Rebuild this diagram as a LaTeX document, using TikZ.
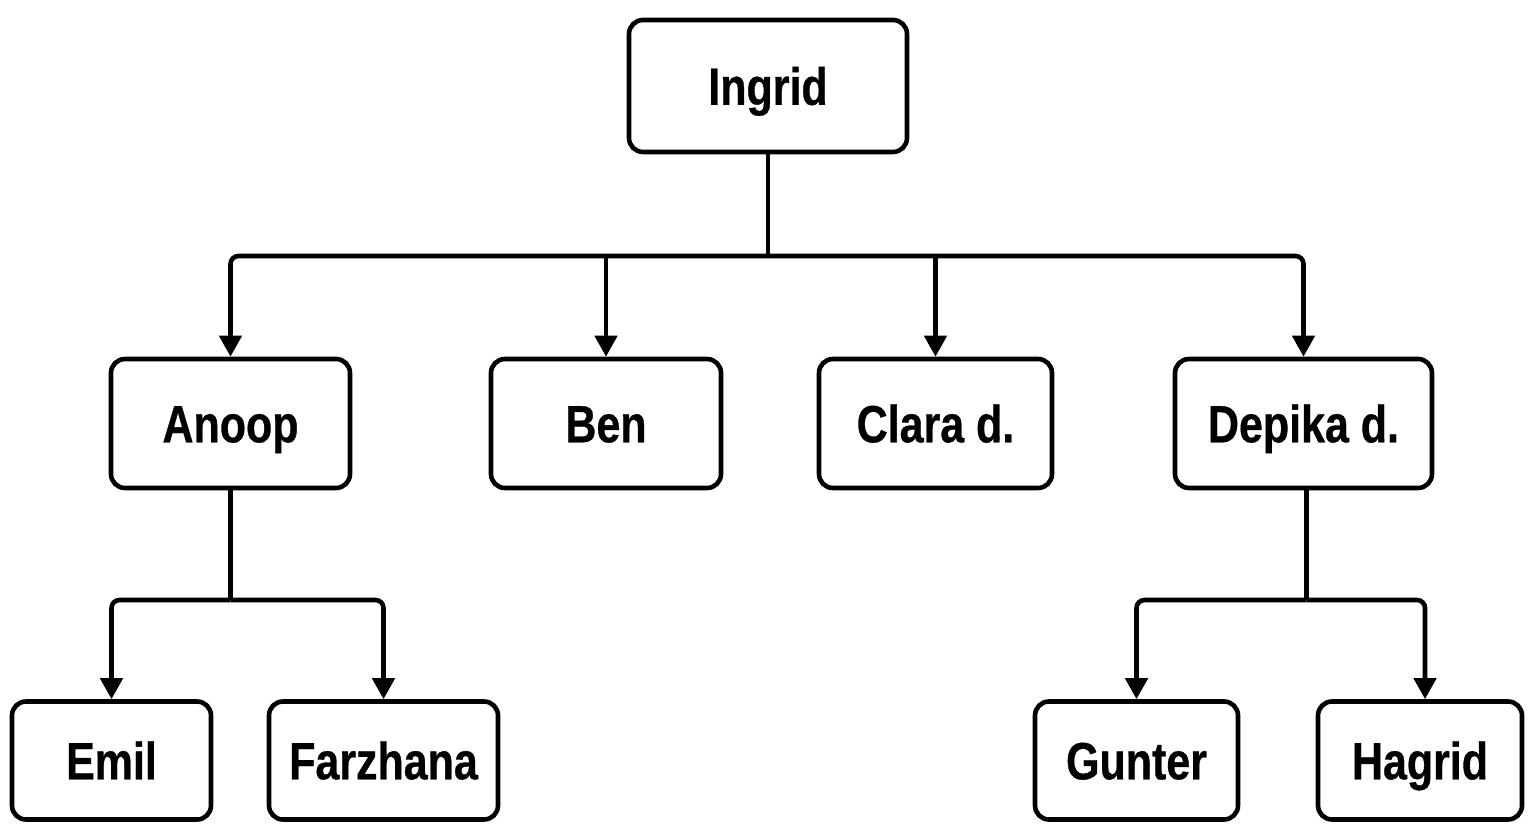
\documentclass[tikz,border=0pt]{standalone}
\usepackage{fontspec}
\setmainfont{Liberation Sans}[FakeStretch=0.82,FakeBold=0.6]
\usepackage{tikz}
\usetikzlibrary{
    calc,
    arrows.meta
}
\tikzset{
    person/.style={draw, line width=2.3pt, rounded corners=7pt, inner sep=0pt,
        font=\fontsize{26.2pt}{30pt}\selectfont\bfseries,
        text height=18.8pt, text depth=0pt, align=center},
    link/.style={line width=2.3pt, rounded corners=4pt},
    arr/.style={link, -{Triangle[width=11pt,length=10.5pt]}}
}

\begin{document}
\begin{tikzpicture}[x=0.5pt,y=-0.5pt]
        \useasboundingbox (0,0) rectangle (1536,839);

        \node[person, minimum width=139pt, minimum height=66pt] (ingrid) at (768,86) {Ingrid};

        \node[person, minimum width=119.5pt, minimum height=64.5pt] (anoop) at (230.5,423.5) {Anoop};
        \node[person, minimum width=115pt, minimum height=64.5pt] (ben) at (606,423.5) {Ben};
        \node[person, minimum width=116.5pt, minimum height=64.5pt] (clara) at (935.5,423.5) {Clara d.};
        \node[person, minimum width=128.5pt, minimum height=64.5pt] (depika) at (1303.5,423.5) {Depika d.};

        \node[person, minimum width=99.5pt, minimum height=59pt] (emil) at (111.5,760.5) {Emil};
        \node[person, minimum width=114.5pt, minimum height=59pt] (farzhana) at (383.5,760.5) {Farzhana};
        \node[person, minimum width=101.5pt, minimum height=59pt] (gunter) at (1136.5,760.5) {Gunter};
        \node[person, minimum width=102pt, minimum height=59pt] (hagrid) at (1420,760.5) {Hagrid};

        % bus lines
        \coordinate (topbus) at (768,256);
        \coordinate (abus) at (anoop.south |- 0,600);
        \coordinate (dbus) at ([xshift=1.5pt]depika.south |- 0,600);

        \draw[link] (ingrid.south) -- (topbus);
        \draw[arr] (topbus) -| (anoop.north);
        \draw[arr] (topbus) -| (depika.north);
        \draw[arr] (ben.north |- topbus) -- (ben.north);
        \draw[arr] (clara.north |- topbus) -- (clara.north);

        \draw[link] (anoop.south) -- (abus);
        \draw[arr] (abus) -| (emil.north);
        \draw[arr] (abus) -| (farzhana.north);

        \draw[link] ([xshift=1.5pt]depika.south) -- (dbus);
        \draw[arr] (dbus) -| (gunter.north);
        \draw[arr] (dbus) -| ([xshift=2.5pt]hagrid.north);
    \end{tikzpicture}
\end{document}
